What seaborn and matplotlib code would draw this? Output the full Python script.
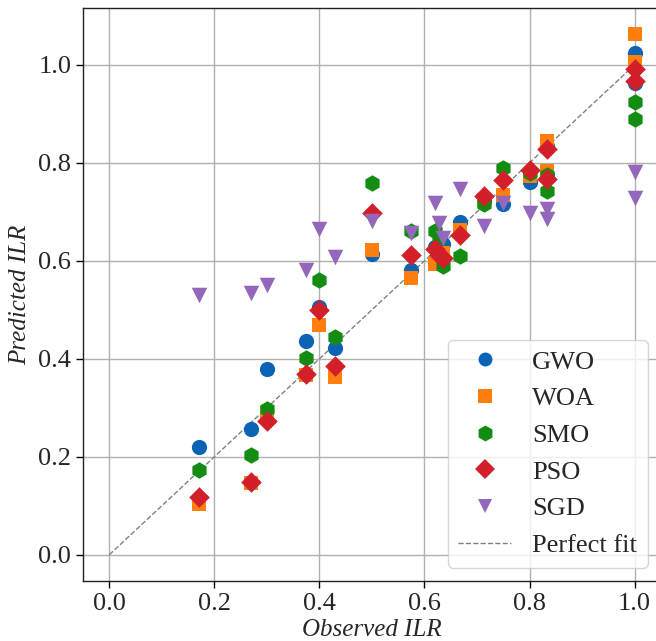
import matplotlib
matplotlib.use("Agg")
import matplotlib.pyplot as plt
from matplotlib.lines import Line2D
import seaborn as sns
import pandas as pd

# ---- data ----
observed = [0.17, 0.27, 0.30, 0.375, 0.40, 0.43, 0.50, 0.575, 0.62, 0.627, 0.635,
            0.667, 0.714, 0.75, 0.80, 0.833, 0.833, 1.0, 1.0]
gwo = [0.220, 0.257, 0.379, 0.437, 0.506, 0.423, 0.614, 0.582, 0.628, 0.620, 0.634,
       0.680, 0.722, 0.716, 0.760, 0.835, 0.775, 1.024, 0.962]
woa = [0.104, 0.146, 0.290, 0.367, 0.470, 0.362, 0.622, 0.565, 0.593, 0.600, 0.616,
       0.662, 0.725, 0.735, 0.773, 0.845, 0.783, 1.063, 1.006]
smo = [0.173, 0.203, 0.297, 0.402, 0.560, 0.444, 0.758, 0.660, 0.660, 0.644, 0.590,
       0.609, 0.715, 0.790, 0.780, 0.742, 0.775, 0.924, 0.889]
pso = [0.117, 0.148, 0.274, 0.370, 0.499, 0.386, 0.697, 0.612, 0.624, 0.612, 0.606,
       0.652, 0.733, 0.765, 0.785, 0.828, 0.768, 0.992, 0.967]
sgd = [0.531, 0.535, 0.551, 0.582, 0.665, 0.607, 0.682, 0.657, 0.718, 0.678, 0.646,
       0.746, 0.671, 0.718, 0.697, 0.705, 0.685, 0.782, 0.729]

models = ["GWO", "WOA", "SMO", "PSO", "SGD"]
predictions = [gwo, woa, smo, pso, sgd]
perfect_x = [0.0, 1.0]
perfect_y = [0.0, 1.0]
tick_values = [0.0, 0.2, 0.4, 0.6, 0.8, 1.0]

colors = {"GWO": "#0a63b5", "WOA": "#ff7f0e", "SMO": "#138c13",
          "PSO": "#d21f2a", "SGD": "#9467bd"}
markers = {"GWO": "o", "WOA": "s", "SMO": "h", "PSO": "D", "SGD": "v"}
sizes = {"GWO": 120, "WOA": 110, "SMO": 140, "PSO": 110, "SGD": 125}
legend_sizes = {"GWO": 10, "WOA": 10, "SMO": 11.5, "PSO": 10, "SGD": 10}

df = pd.concat(
    [pd.DataFrame({"Observed": observed, "Predicted": p, "Model": m})
     for m, p in zip(models, predictions)],
    ignore_index=True)

sns.set_style("white")
plt.rcParams["font.family"] = ["Liberation Serif", "DejaVu Serif"]

fig = plt.figure(figsize=(6.56, 6.41), dpi=100)
ax = fig.add_axes([0.1265, 0.094, 0.881, 0.8935])

for m in models:
    sub = df[df["Model"] == m]
    sns.scatterplot(data=sub, x="Observed", y="Predicted", color=colors[m],
                    marker=markers[m], s=sizes[m], linewidth=0, ax=ax,
                    legend=False, zorder=3)

ax.plot(perfect_x, perfect_y, linestyle="--", color="gray", linewidth=1.0,
        zorder=2)

ax.set_xlim(-0.05, 1.05)
ax.set_ylim(-0.053, 1.116)
ax.set_xticks(tick_values)
ax.set_yticks(tick_values)
ax.set_xticklabels([f"{v:.1f}" for v in tick_values])
ax.set_yticklabels([f"{v:.1f}" for v in tick_values])
ax.tick_params(labelsize=19, length=5, width=1, color="black", direction="out",
               bottom=True, left=True)
ax.grid(True, color="#b0b0b0", linewidth=1.0)
ax.set_axisbelow(True)
for sp in ax.spines.values():
    sp.set_color("#222222")
    sp.set_linewidth(1.0)

ax.set_xlabel("Observed ILR", fontsize=18, style="italic", labelpad=3)
ax.set_ylabel("Predicted ILR", fontsize=18, style="italic", labelpad=5)

handles = [Line2D([], [], linestyle="none", marker=markers[m], color=colors[m],
                  markersize=legend_sizes[m], markeredgewidth=0) for m in models]
handles.append(Line2D([], [], linestyle="--", color="gray", linewidth=1.0))
labels = models + ["Perfect fit"]
ax.legend(handles, labels, loc="lower right", fontsize=19, frameon=True,
          framealpha=0.8, edgecolor="0.8", borderaxespad=0.5)

fig.savefig("out.png", dpi=100)
